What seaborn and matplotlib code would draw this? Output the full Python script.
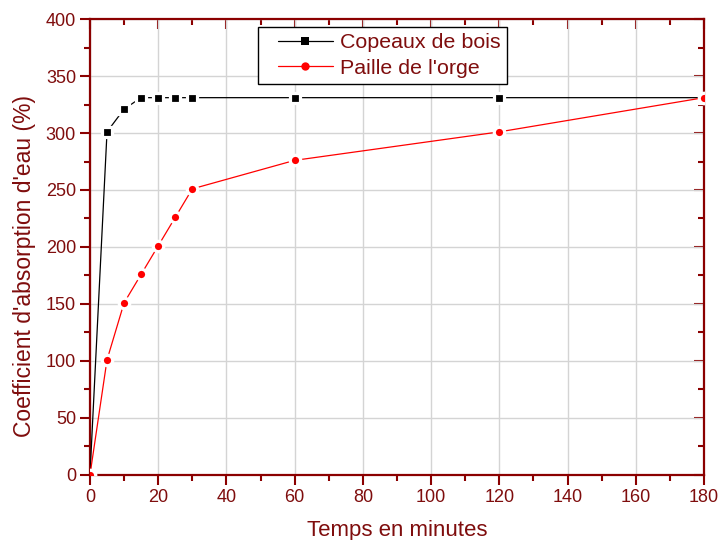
import matplotlib
matplotlib.use("Agg")
import matplotlib.pyplot as plt
import seaborn as sns
import pandas as pd
from matplotlib.lines import Line2D
from matplotlib.legend_handler import HandlerLine2D
from matplotlib.ticker import MultipleLocator

# Water absorption over time for two bio-based materials
temps = [0, 5, 10, 15, 20, 25, 30, 60, 120, 180]
copeaux_bois = [0, 301, 321, 331, 331, 331, 331, 331, 331, 331]
paille_orge = [0, 101, 151, 176, 201, 226, 251, 276, 301, 331]
series_names = ["Copeaux de bois", "Paille de l'orge"]

x_ticks = [0, 20, 40, 60, 80, 100, 120, 140, 160, 180]
y_ticks = [0, 50, 100, 150, 200, 250, 300, 350, 400]

df = pd.DataFrame({
    "temps": temps * 2,
    "absorption": copeaux_bois + paille_orge,
    "materiau": [series_names[0]] * len(temps) + [series_names[1]] * len(temps),
})

sns.set_theme(style="white")
plt.rcParams["font.family"] = ["Liberation Sans", "DejaVu Sans"]

axis_red = "#8b0000"
text_red = "#7f0d0d"

fig = plt.figure(figsize=(7.18, 5.4), dpi=100)
ax = fig.add_axes([0.1253, 0.1204, 0.8552, 0.8444])
ax.set_axisbelow(True)

palette = {series_names[0]: "black", series_names[1]: "#ff0000"}
markers = {series_names[0]: "s", series_names[1]: "o"}
sns.lineplot(data=df, x="temps", y="absorption", hue="materiau", style="materiau",
             palette=palette, markers=markers, dashes=False, ax=ax,
             linewidth=0.9, markersize=7.5, markeredgecolor="white",
             markeredgewidth=2.3, legend=True, zorder=3)

ax.set_xlim(0, 180)
ax.set_ylim(0, 400)
ax.set_xticks(x_ticks)
ax.set_yticks(y_ticks)
ax.xaxis.set_minor_locator(MultipleLocator(10))
ax.yaxis.set_minor_locator(MultipleLocator(25))

ax.grid(True, which="major", color="#d4d4d4", linewidth=1.0)

for side in ["left", "bottom", "top", "right"]:
    ax.spines[side].set_visible(True)
    ax.spines[side].set_color(axis_red)
    ax.spines[side].set_linewidth(1.6)

ax.tick_params(axis="both", which="major", direction="out", length=7, width=1.5,
               color=axis_red, labelcolor=text_red, labelsize=13, pad=3,
               bottom=True, left=True)
ax.tick_params(axis="both", which="minor", direction="out", length=4.5, width=1.5,
               color=axis_red, bottom=True, left=True)

# inward ticks along the top and right edges
top = ax.secondary_xaxis("top")
top.set_xticks(x_ticks)
top.xaxis.set_minor_locator(MultipleLocator(10))
top.tick_params(which="major", direction="in", length=7, width=1.5, color=axis_red, labeltop=False)
top.tick_params(which="minor", direction="in", length=4.5, width=1.5, color=axis_red)
top.spines["top"].set_visible(False)

right = ax.secondary_yaxis("right")
right.set_yticks(y_ticks)
right.yaxis.set_minor_locator(MultipleLocator(25))
right.tick_params(which="major", direction="in", length=7, width=1.5, color=axis_red, labelright=False)
right.tick_params(which="minor", direction="in", length=4.5, width=1.5, color=axis_red)
right.spines["right"].set_visible(False)

ax.set_xlabel("Temps en minutes", color=text_red, fontsize=16, labelpad=10)
ax.set_ylabel("Coefficient d'absorption d'eau (%)", color=text_red, fontsize=16.5)
ax.yaxis.set_label_coords(-0.088, 0.458)

leg = ax.legend(loc="upper left", bbox_to_anchor=(0.2736, 0.9825), borderaxespad=0,
                fontsize=15.4, frameon=True, fancybox=False, edgecolor="black",
                framealpha=1, handlelength=3.2, borderpad=0.3, labelspacing=0.3,
                handletextpad=0.33,
                handler_map={Line2D: HandlerLine2D(xpad=0.64)})
leg.get_frame().set_linewidth(1.0)
for t in leg.get_texts():
    t.set_color(text_red)
for h in leg.legend_handles:
    h.set_markersize(6.0)
    h.set_markeredgewidth(0)

fig.savefig("out.png", dpi=100)
